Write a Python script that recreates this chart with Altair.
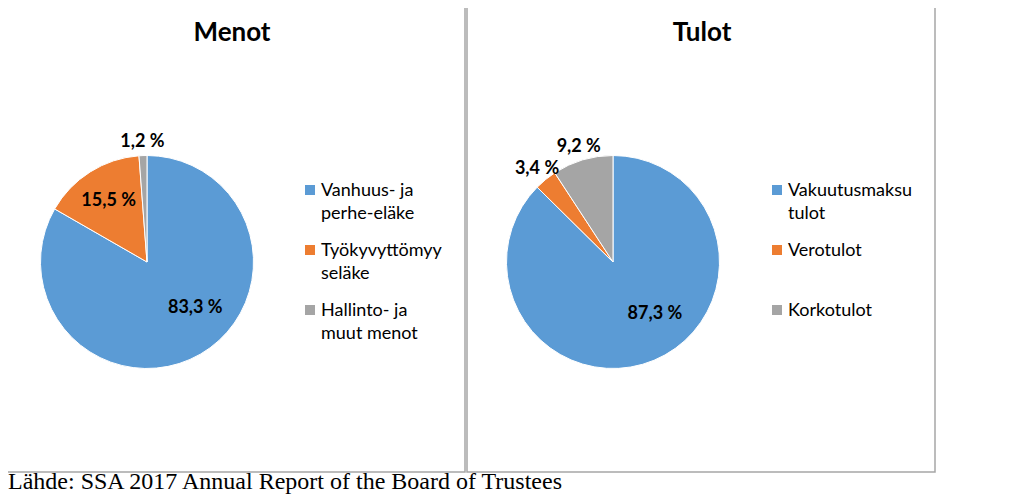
import altair as alt
import pandas as pd

# ---- data ----
menot_cats = ["Vanhuus- ja perhe-eläke", "Työkyvyttömyyseläke", "Hallinto- ja muut menot"]
menot_legend = ["Vanhuus- ja\nperhe-eläke", "Työkyvyttömyy\nseläke", "Hallinto- ja\nmuut menot"]
menot_values = [83.3, 15.5, 1.2]
menot_labels = ["83,3 %", "15,5 %", "1,2 %"]

tulot_cats = ["Vakuutusmaksutulot", "Verotulot", "Korkotulot"]
tulot_legend = ["Vakuutusmaksu\ntulot", "Verotulot", "Korkotulot"]
tulot_values = [87.3, 3.4, 9.2]
tulot_labels = ["87,3 %", "3,4 %", "9,2 %"]

colors = ["#5B9BD5", "#ED7D31", "#A5A5A5"]
titles = ["Menot", "Tulot"]
source = "Lähde: SSA 2017 Annual Report of the Board of Trustees"

FONT = "Lato"
CY = 254


def pie(cats, legend, values, labels, cx, sq_x, txt_x):
    df = pd.DataFrame({"cat": cats, "leg": legend, "v": values,
                       "lab": labels, "idx": list(range(len(cats)))})
    base = alt.Chart(df)
    color = alt.Color("cat:N", scale=alt.Scale(domain=cats, range=colors), legend=None)
    theta = alt.Theta("v:Q", stack=True)
    order = alt.Order("idx:Q", sort="ascending")
    arc = base.mark_arc(radius=106.5, stroke="white", strokeWidth=1).encode(
        theta=theta, color=color, order=order, x=alt.value(cx), y=alt.value(CY))
    big = base.mark_text(font=FONT, fontWeight="bold", fontSize=18, radius=67,
                         thetaOffset=-0.28, color="black").encode(
        theta=theta, order=order, x=alt.value(cx), y=alt.value(CY),
        text=alt.condition("datum.v >= 50", alt.Text("lab:N"), alt.value("")))
    mid = base.mark_text(font=FONT, fontWeight="bold", fontSize=18, radius=72,
                         color="black").encode(
        theta=theta, order=order, x=alt.value(cx), y=alt.value(CY),
        text=alt.condition("datum.v >= 10 && datum.v < 50", alt.Text("lab:N"), alt.value("")))
    out = base.mark_text(font=FONT, fontWeight="bold", fontSize=18, radius=120,
                         color="black").encode(
        theta=theta, order=order, x=alt.value(cx), y=alt.value(CY),
        text=alt.condition("datum.v < 10", alt.Text("lab:N"), alt.value("")))
    ypos = alt.Y("idx:Q", scale=alt.Scale(domain=[0, 2], range=[182, 302], nice=False, zero=False), axis=None)
    sq = base.mark_square(size=100, opacity=1).encode(
        x=alt.value(sq_x), y=ypos, color=color)
    lt = base.mark_text(font=FONT, fontSize=18, align="left", baseline="alphabetic",
                        lineBreak="\n", lineHeight=23, dy=6, color="black").encode(
        x=alt.value(txt_x), y=ypos, text="leg:N")
    return alt.layer(arc, big, mid, out, sq, lt)


menot = pie(menot_cats, menot_legend, menot_values, menot_labels, 139, 302, 313)
tulot = pie(tulot_cats, tulot_legend, tulot_values, tulot_labels, 605, 769, 780)

one = alt.Data(values=[{}])
border_l = alt.Chart(one).mark_rect(fill="white", stroke="#A6A6A6", strokeWidth=1.5).encode(
    x=alt.value(-8), x2=alt.value(457), y=alt.value(-8), y2=alt.value(464))
border_r = alt.Chart(one).mark_rect(fill="white", stroke="#A6A6A6", strokeWidth=1.5).encode(
    x=alt.value(459), x2=alt.value(927), y=alt.value(-8), y2=alt.value(464))

t1 = alt.Chart(pd.DataFrame({"t": [titles[0]]})).mark_text(
    font=FONT, fontWeight="bold", fontSize=26, baseline="middle", color="black").encode(
    text="t:N", x=alt.value(224), y=alt.value(25))
t2 = alt.Chart(pd.DataFrame({"t": [titles[1]]})).mark_text(
    font=FONT, fontWeight="bold", fontSize=26, baseline="middle", color="black").encode(
    text="t:N", x=alt.value(694), y=alt.value(25))

foot = alt.Chart(pd.DataFrame({"s": [source]})).mark_text(
    font="Liberation Serif", fontSize=24, align="left", baseline="alphabetic", color="black").encode(
    text="s:N", x=alt.value(0), y=alt.value(481))

chart = alt.layer(border_l, border_r, t1, t2, menot, tulot, foot).resolve_scale(
    theta="independent", color="independent"
).properties(
    width=1008, height=487, padding=0, autosize="none"
).configure_view(stroke=None)

chart.save("out.html", embed_options={"renderer": "svg", "actions": False})
